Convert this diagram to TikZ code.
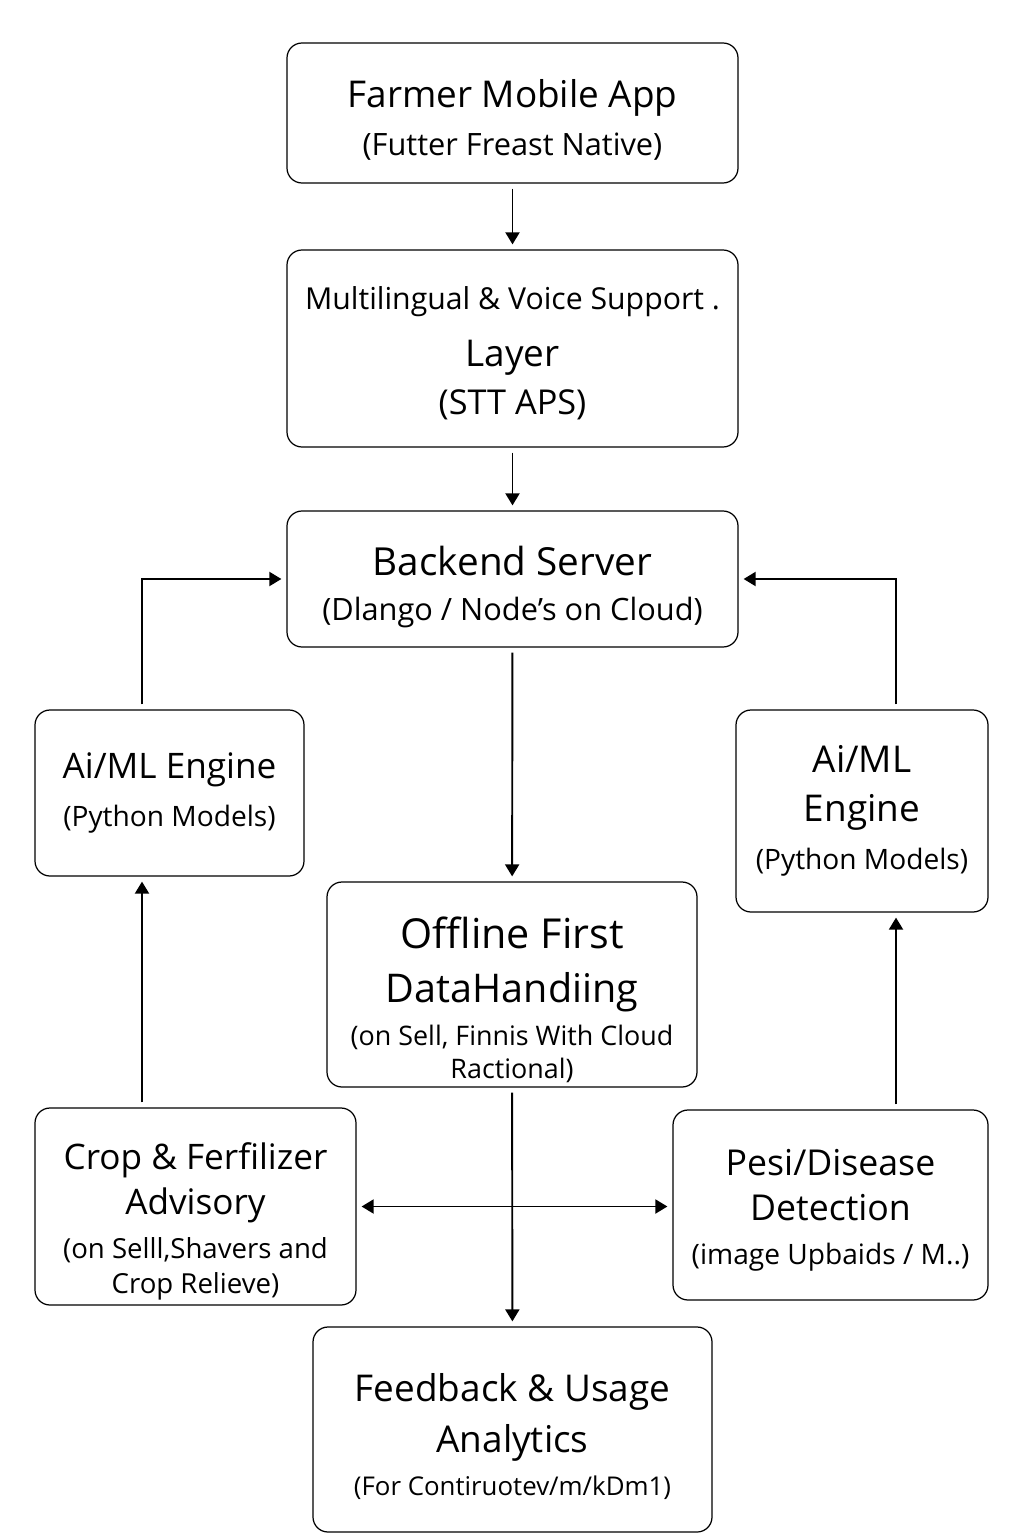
\documentclass[tikz,border=0pt]{standalone}
\usepackage{fontspec}
\setmainfont{Open Sans}
\usetikzlibrary{arrows.meta, positioning}
\newcommand{\headfont}{\fontsize{21}{27}\selectfont}
\newcommand{\notefont}{\fontsize{16}{27}\selectfont}
\newcommand{\lift}[1]{\rule{0pt}{#1}}

\begin{document}
\begin{tikzpicture}[
                block/.style = {draw, rounded corners = 0.3cm, line width = 0.7pt, align = center, inner sep = 2pt, font = \fontsize{21}{27.5}\selectfont},
                link/.style = {-{Triangle[length = 0.24cm, width = 0.28cm]}, line width = 1.1pt, shorten > = 0.1cm, shorten < = 0.1cm}
            ]
                \fill [white] (0, 0) rectangle (20.48, -30.72);
                \useasboundingbox (0, 0) rectangle (20.48, -30.72);

                \node (App) [block, minimum width = 9.02cm, minimum height = 2.8cm] at (10.25, -2.26)
                    { \headfont\lift{24pt}Farmer Mobile App \\ \fontsize{17.5}{27}\selectfont (Futter Freast Native) };
                \node (Voice) [block, minimum width = 9.02cm, minimum height = 3.94cm] at (10.25, -6.97)
                    { \fontsize{17.2}{27}\selectfont\lift{18.6pt}Multilingual \& Voice Support . \\[4.5pt] \headfont Layer \\ \fontsize{19.5}{27}\selectfont (STT APS) };
                \node (Server) [block, minimum width = 9.02cm, minimum height = 2.72cm] at (10.25, -11.58)
                    { \fontsize{22}{27}\selectfont\lift{25.7pt}Backend Server \\[-1.5pt] \fontsize{17.5}{27}\selectfont (Dlango / Node's on Cloud) };
                \node (EngineL) [block, minimum width = 5.38cm, minimum height = 3.32cm] at (3.39, -15.86)
                    { \fontsize{20}{27}\selectfont Ai/ML Engine \\ \notefont (Python Models) };
                \node (EngineR) [block, minimum width = 5.04cm, minimum height = 4.04cm] at (17.24, -16.22)
                    { \headfont Ai/ML \\ \headfont Engine \\ \notefont (Python Models) };
                \node (Offline) [block, minimum width = 7.4cm, minimum height = 4.1cm] at (10.24, -19.69)
                    { \fontsize{23.5}{27}\selectfont\lift{35pt}Offline First \\[3.4pt] \fontsize{22.5}{27}\selectfont DataHandiing \\[-3pt] \fontsize{15.3}{27}\selectfont (on Sell, Finnis With Cloud \\[-9pt] \fontsize{15.3}{27}\selectfont Ractional) };
                \node (Crop) [block, minimum width = 6.42cm, minimum height = 3.94cm] at (3.91, -24.13)
                    { \fontsize{20}{27}\selectfont\lift{32pt}Crop \& Ferfilizer \\[-2pt] \fontsize{20}{27}\selectfont Advisory \\[-2pt] \fontsize{15.7}{27}\selectfont (on Selll,Shavers and \\[-8pt] \fontsize{15.7}{27}\selectfont Crop Relieve) };
                \node (Pest) [block, minimum width = 6.3cm, minimum height = 3.8cm] at (16.61, -24.1)
                    { \fontsize{20.3}{27}\selectfont\lift{21pt}Pesi/Disease \\[-2pt] \fontsize{20.3}{27}\selectfont Detection \\[-2pt] \notefont (image Upbaids / M..) };
                \node (Feedback) [block, minimum width = 7.98cm, minimum height = 4.1cm] at (10.25, -28.59)
                    { \headfont\lift{24pt}Feedback \& Usage \\[1pt] \headfont Analytics \\[-3pt] \fontsize{14.7}{27}\selectfont (For Contiruotev/m/kDm1) };

                \coordinate (LaneL) at (2.84, 0);
                \coordinate (LaneR) at (17.92, 0);

                \draw [link] (App) -- (Voice);
                \draw [link] (Voice) -- (Server);
                \draw [link] (Server) -- (Offline);
                \draw [link] (Offline) -- (Feedback);

                \draw [link] (EngineL.north -| LaneL) |- (Server.west);
                \draw [link] (EngineR.north -| LaneR) |- (Server.east);
                \draw [link] (Crop.north -| LaneL) -- (EngineL.south -| LaneL);
                \draw [link] (Pest.north -| LaneR) -- (EngineR.south -| LaneR);

                \draw [link, {Triangle[length = 0.24cm, width = 0.28cm]}-{Triangle[length = 0.24cm, width = 0.28cm]}] (Crop.east) -- (Crop.east -| Pest.west);
            \end{tikzpicture}
\end{document}
